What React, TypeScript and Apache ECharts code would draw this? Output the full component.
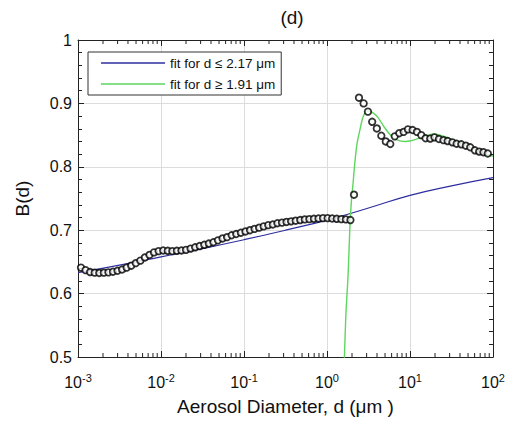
import React, { useEffect, useRef } from "react";
import * as echarts from "echarts";

// log10 of aerosol diameter (µm) for the measured points
const measuredLogD = [
  -2.964, -2.909, -2.854, -2.799, -2.744, -2.689, -2.634, -2.579, -2.524, -2.469,
  -2.414, -2.359, -2.304, -2.249, -2.194, -2.139, -2.084, -2.029, -1.974, -1.919,
  -1.864, -1.809, -1.754, -1.699, -1.644, -1.589, -1.534, -1.479, -1.424, -1.369,
  -1.314, -1.259, -1.204, -1.149, -1.094, -1.038, -0.983, -0.928, -0.873, -0.818,
  -0.763, -0.708, -0.653, -0.598, -0.543, -0.488, -0.433, -0.378, -0.323, -0.268,
  -0.213, -0.158, -0.103, -0.048, 0.007, 0.062, 0.117, 0.172, 0.227, 0.282,
  0.325, 0.385, 0.441, 0.493, 0.544, 0.6, 0.654, 0.708, 0.762, 0.816,
  0.87, 0.923, 0.975, 1.031, 1.083, 1.135, 1.187, 1.243, 1.294, 1.348,
  1.402, 1.453, 1.51, 1.561, 1.617, 1.673, 1.725, 1.781, 1.833, 1.884, 1.937,
];
const measuredB = [
  0.641, 0.637, 0.634, 0.633, 0.6325, 0.633, 0.6335, 0.6345, 0.636, 0.638,
  0.641, 0.644, 0.648, 0.652, 0.657, 0.661, 0.665, 0.667, 0.668, 0.6675,
  0.667, 0.6675, 0.668, 0.669, 0.671, 0.673, 0.675, 0.677, 0.679, 0.681,
  0.684, 0.687, 0.689, 0.692, 0.694, 0.696, 0.698, 0.7, 0.702, 0.704,
  0.706, 0.708, 0.709, 0.711, 0.712, 0.713, 0.714, 0.715, 0.716, 0.717,
  0.7175, 0.718, 0.7185, 0.719, 0.719, 0.7185, 0.718, 0.7175, 0.717, 0.716,
  0.756, 0.909, 0.9, 0.887, 0.871, 0.8605, 0.849, 0.84, 0.836, 0.848,
  0.853, 0.855, 0.859, 0.858, 0.855, 0.85, 0.845, 0.8445, 0.8465, 0.8438,
  0.842, 0.8406, 0.8386, 0.8364, 0.8355, 0.8333, 0.8308, 0.826, 0.824, 0.823, 0.821,
];

// fit for d <= 2.17 µm
const blueLogD = [-3, -2.5, -2, -1.5, -1, -0.5, 0, 0.5, 1, 1.5, 2];
const blueB = [0.633, 0.645, 0.658, 0.671, 0.685, 0.7, 0.716, 0.735, 0.755, 0.77, 0.783];

// fit for d >= 1.91 µm
const greenLogD = [
  0.19, 0.225, 0.254, 0.274, 0.293, 0.313, 0.334, 0.361, 0.394, 0.433, 0.481, 0.532,
  0.612, 0.693, 0.772, 0.852, 0.932, 1.011, 1.13, 1.291, 1.45, 1.609, 1.769, 1.928, 2.0,
];
const greenB = [
  0.42, 0.56, 0.63, 0.7, 0.745, 0.773, 0.805, 0.836, 0.857, 0.878, 0.888, 0.887,
  0.878, 0.862, 0.849, 0.842, 0.84, 0.841, 0.846, 0.852, 0.846, 0.838, 0.828, 0.819, 0.817,
];

const decadeExponents = [-3, -2, -1, 0, 1];
const minorMultipliers = [2, 3, 4, 5, 6, 7, 8, 9];

const legendBlue = "fit for d \u2264 2.17 \u03bcm";
const legendGreen = "fit for d \u2265 1.91 \u03bcm";

const FONT = "Liberation Sans, Arial, sans-serif";
const BLUE = "#2e2e9e";
const GREEN = "#5fd65f";

export default function App() {
  const ref = useRef<HTMLDivElement>(null);
  useEffect(() => {
    if (!ref.current) return;
    document.body.style.margin = "0";
    const chart = echarts.init(ref.current, undefined, { renderer: "svg" });

    const minorTickData: number[][] = [];
    decadeExponents.forEach((e) =>
      minorMultipliers.forEach((k) => minorTickData.push([e + Math.log10(k), 0.5]))
    );

    const xAxisBase = {
      type: "value" as const,
      min: -3,
      max: 2,
      interval: 1,
      axisLine: { show: true, onZero: false, lineStyle: { color: "#222", width: 1 } },
      axisTick: { show: true, inside: true, length: 6, lineStyle: { color: "#222" } },
    };
    const yAxisBase = {
      type: "value" as const,
      min: 0.5,
      max: 1,
      interval: 0.1,
      axisLine: { show: true, onZero: false, lineStyle: { color: "#222", width: 1 } },
      axisTick: { show: true, inside: true, length: 6, lineStyle: { color: "#222" } },
      minorTick: { show: true, splitNumber: 5, length: 4, lineStyle: { color: "#222" } },
    };

    chart.setOption({
      animation: false,
      backgroundColor: "#fff",
      textStyle: { fontFamily: FONT },
      title: {
        text: "(d)",
        left: 287,
        textAlign: "center",
        top: 3,
        textStyle: { fontFamily: FONT, fontSize: 19, fontWeight: "normal", color: "#111" },
      },
      grid: { left: 78, right: 12, top: 40, bottom: 61, containLabel: false },
      legend: {
        data: [
          { name: legendBlue, icon: "rect", itemStyle: { color: BLUE } },
          { name: legendGreen, icon: "rect", itemStyle: { color: GREEN } },
        ],
        orient: "vertical",
        left: 88,
        top: 52,
        itemWidth: 64,
        itemHeight: 1.5,
        itemGap: 7,
        padding: [4, 6, 4, 13],
        borderColor: "#333",
        borderWidth: 1,
        backgroundColor: "#fff",
        textStyle: { fontFamily: FONT, fontSize: 13.5, color: "#111" },
      },
      xAxis: [
        {
          ...xAxisBase,
          position: "bottom",
          name: "Aerosol Diameter, d (\u03bcm )",
          nameLocation: "middle",
          nameGap: 40,
          nameTextStyle: { fontFamily: FONT, fontSize: 19, color: "#111" },
          splitLine: { show: true, lineStyle: { color: "#dcdcdc", width: 1 } },
          axisLabel: {
            margin: 15,
            formatter: (v: number) => `{b|10}{s|${v}}`,
            rich: {
              b: { fontFamily: FONT, fontSize: 16, color: "#111" },
              s: { fontFamily: FONT, fontSize: 11, color: "#111", verticalAlign: "top", padding: [0, 0, 10, 0] },
            },
          },
        },
        {
          ...xAxisBase,
          position: "top",
          splitLine: { show: false },
          axisLabel: { show: false },
        },
      ],
      yAxis: [
        {
          ...yAxisBase,
          position: "left",
          name: "B(d)",
          nameLocation: "middle",
          nameGap: 46,
          nameTextStyle: { fontFamily: FONT, fontSize: 19, color: "#111" },
          splitLine: { show: true, lineStyle: { color: "#dcdcdc", width: 1 } },
          axisLabel: {
            fontFamily: FONT,
            fontSize: 16,
            color: "#111",
            margin: 6,
            formatter: (v: number) => `${+v.toFixed(1)}`,
          },
        },
        {
          ...yAxisBase,
          position: "right",
          splitLine: { show: false },
          axisLabel: { show: false },
        },
      ],
      series: [
        {
          type: "custom",
          name: "minorTicks",
          silent: true,
          clip: false,
          data: minorTickData,
          renderItem: (params: any, api: any) => {
            const cs = params.coordSys;
            const x = api.coord([api.value(0), 0.5])[0];
            const style = { stroke: "#222", lineWidth: 1 };
            return {
              type: "group",
              children: [
                { type: "line", shape: { x1: x, y1: cs.y + cs.height, x2: x, y2: cs.y + cs.height - 4 }, style },
                { type: "line", shape: { x1: x, y1: cs.y, x2: x, y2: cs.y + 4 }, style },
              ],
            };
          },
          z: 1,
        },
        {
          type: "line",
          name: legendBlue,
          data: blueLogD.map((l, i) => [l, blueB[i]]),
          symbol: "none",
          smooth: true,
          lineStyle: { color: BLUE, width: 1.2 },
          itemStyle: { color: BLUE },
          z: 2,
        },
        {
          type: "line",
          name: legendGreen,
          data: greenLogD.map((l, i) => [l, greenB[i]]),
          symbol: "none",
          smooth: 0.3,
          clip: true,
          lineStyle: { color: GREEN, width: 1.4 },
          itemStyle: { color: GREEN },
          z: 2,
        },
        {
          type: "scatter",
          name: "measured",
          data: measuredLogD.map((l, i) => [l, measuredB[i]]),
          symbol: "circle",
          symbolSize: 6.5,
          itemStyle: { color: "#fff", borderColor: "#000", borderWidth: 1.8 },
          z: 3,
        },
      ],
    });
    return () => chart.dispose();
  }, []);
  return <div ref={ref} style={{ width: 508, height: 421 }} />;
}
